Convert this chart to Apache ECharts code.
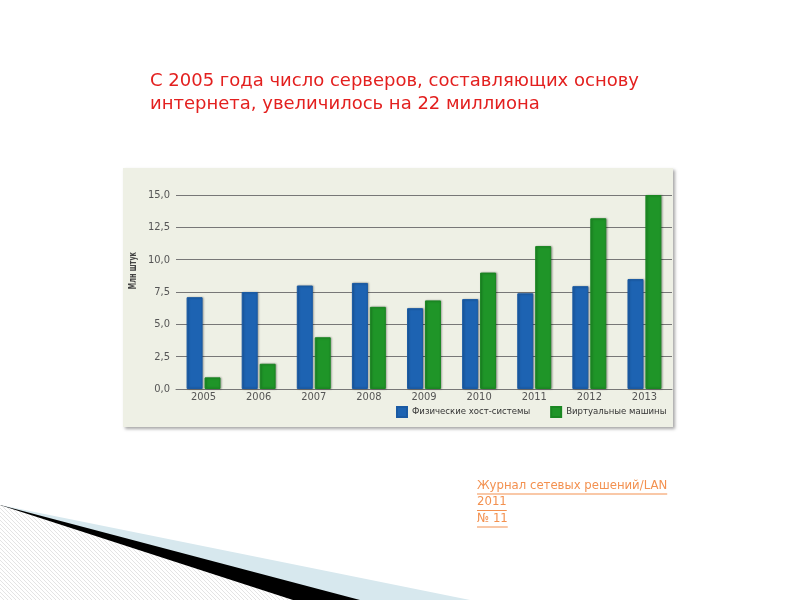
<!DOCTYPE html>
<html>
<head>
<meta charset="utf-8">
<script src="https://cdn.jsdelivr.net/npm/echarts@6/dist/echarts.min.js"></script>
<style>
    html, body { margin: 0; padding: 0; background: #fff; }
    #main { width: 800px; height: 600px; }
</style>
</head>
<body>
<div id="main"></div>
<script>
var years = ['2005', '2006', '2007', '2008', '2009', '2010', '2011', '2012', '2013'];
var physicalHosts = [7.1, 7.5, 8.0, 8.2, 6.25, 6.95, 7.4, 7.95, 8.5];
var virtualMachines = [0.9, 1.95, 4.0, 6.35, 6.85, 9.0, 11.05, 13.2, 15.0];
var seriesNames = ['Физические хост-системы', 'Виртуальные машины'];
var titleLines = ['С 2005 года число серверов, составляющих основу', 'интернета, увеличилось на 22 миллиона'];
var sourceLines = ['Журнал сетевых решений/LAN', '2011', '№ 11'];

var narrowFont = "'DejaVu Sans Condensed', sans-serif";
var sourceFont = "'DejaVu Sans Condensed', sans-serif";

//ширина текста для подчеркивания
function textWidth(str, font) {
    var ctx = document.createElement('canvas').getContext('2d');
    ctx.font = font;
    return ctx.measureText(str).width;
}

//штриховка для фигуры внизу слева
function hatchPattern() {
    var c = document.createElement('canvas');
    c.width = 4;
    c.height = 4;
    var ctx = c.getContext('2d');
    ctx.fillStyle = '#ffffff';
    ctx.fillRect(0, 0, 4, 4);
    ctx.strokeStyle = '#e4e4e4';
    ctx.lineWidth = 1;
    ctx.beginPath();
    ctx.moveTo(0, 0); ctx.lineTo(4, 4);
    ctx.moveTo(-1, 3); ctx.lineTo(1, 5);
    ctx.moveTo(3, -1); ctx.lineTo(5, 1);
    ctx.stroke();
    return { image: c, repeat: 'repeat' };
}

function sourceGraphics() {
    var res = [];
    var top = 479;
    for (var i = 0; i < sourceLines.length; i++) {
        var y = top + i * 16.5;
        res.push({
            type: 'text', left: 477, top: y, z: 10,
            style: { text: sourceLines[i], fill: '#f39150', font: '13px ' + sourceFont }
        });
        res.push({
            type: 'line', z: 10,
            shape: { x1: 477, y1: y + 15, x2: 477 + textWidth(sourceLines[i], '13px ' + sourceFont), y2: y + 15 },
            style: { stroke: '#f39150', lineWidth: 1 }
        });
    }
    return res;
}

var myChart = echarts.init(document.getElementById('main'));
var option = {
    backgroundColor: '#ffffff',
    animation: false,
    title: {
        text: titleLines.join('\n'),
        left: 145,
        top: 65,
        textStyle: {
            color: '#e3201f',
            fontSize: 18,
            fontWeight: 'normal',
            fontFamily: "'DejaVu Sans', sans-serif",
            lineHeight: 23
        }
    },
    graphic: [
        //подложка графика
        {
            type: 'rect', z: -10,
            shape: { x: 123, y: 168, width: 550, height: 259 },
            style: {
                fill: '#eef0e5',
                shadowColor: 'rgba(0,0,0,0.35)',
                shadowBlur: 3,
                shadowOffsetX: 2,
                shadowOffsetY: 2
            }
        },
        {
            type: 'text', z: 10,
            x: 128, y: 252, rotation: Math.PI / 2,
            scaleX: 0.72,
            originX: 0, originY: 0,
            style: {
                text: 'Млн штук', fill: '#444', font: 'bold 10px ' + narrowFont,
                align: 'right', verticalAlign: 'top'
            }
        },
        //декор внизу слева
        {
            type: 'polygon', z: -5,
            shape: { points: [[0, 505], [470, 600], [0, 600]] },
            style: { fill: '#d7e8ee' }
        },
        {
            type: 'polygon', z: -4,
            shape: { points: [[0, 505], [360, 600], [0, 600]] },
            style: { fill: '#000000' }
        },
        {
            type: 'polygon', z: -3,
            shape: { points: [[0, 505], [293, 600], [0, 600]] },
            style: { fill: hatchPattern() }
        }
    ].concat(sourceGraphics()),
    legend: {
        data: seriesNames,
        left: 391,
        top: 401,
        itemWidth: 10,
        itemHeight: 10,
        itemGap: 20,
        icon: 'rect',
        textStyle: { color: '#333', fontSize: 9.5, fontFamily: narrowFont }
    },
    grid: {
        left: 176,
        right: 128,
        top: 195,
        bottom: 211,
        containLabel: false
    },
    xAxis: {
        type: 'category',
        data: years,
        axisLine: { show: true, lineStyle: { color: '#777', width: 1 } },
        axisTick: { show: false },
        axisLabel: { color: '#555', fontSize: 11, fontFamily: narrowFont, margin: 3 }
    },
    yAxis: {
        type: 'value',
        min: 0,
        max: 15,
        interval: 2.5,
        axisLine: { show: false },
        axisTick: { show: false },
        splitLine: { lineStyle: { color: '#777', width: 1 } },
        axisLabel: {
            color: '#555', fontSize: 11, fontFamily: narrowFont, margin: 6,
            formatter: function (v) { return v.toFixed(1).replace('.', ','); }
        }
    },
    series: [
        {
            name: seriesNames[0],
            type: 'bar',
            barWidth: 16,
            barGap: '12%',
            itemStyle: {
                color: '#1d63b2',
                borderColor: '#1a5aa3',
                borderWidth: 1,
                shadowColor: 'rgba(0,0,0,0.3)',
                shadowBlur: 2,
                shadowOffsetX: 1
            },
            data: physicalHosts
        },
        {
            name: seriesNames[1],
            type: 'bar',
            barWidth: 16,
            itemStyle: {
                color: '#1f9528',
                borderColor: '#1a8722',
                borderWidth: 1,
                shadowColor: 'rgba(0,0,0,0.3)',
                shadowBlur: 2,
                shadowOffsetX: 1
            },
            data: virtualMachines
        }
    ]
};
if (option && typeof option === "object") {
    myChart.setOption(option, true);
}
</script>
</body>
</html>
